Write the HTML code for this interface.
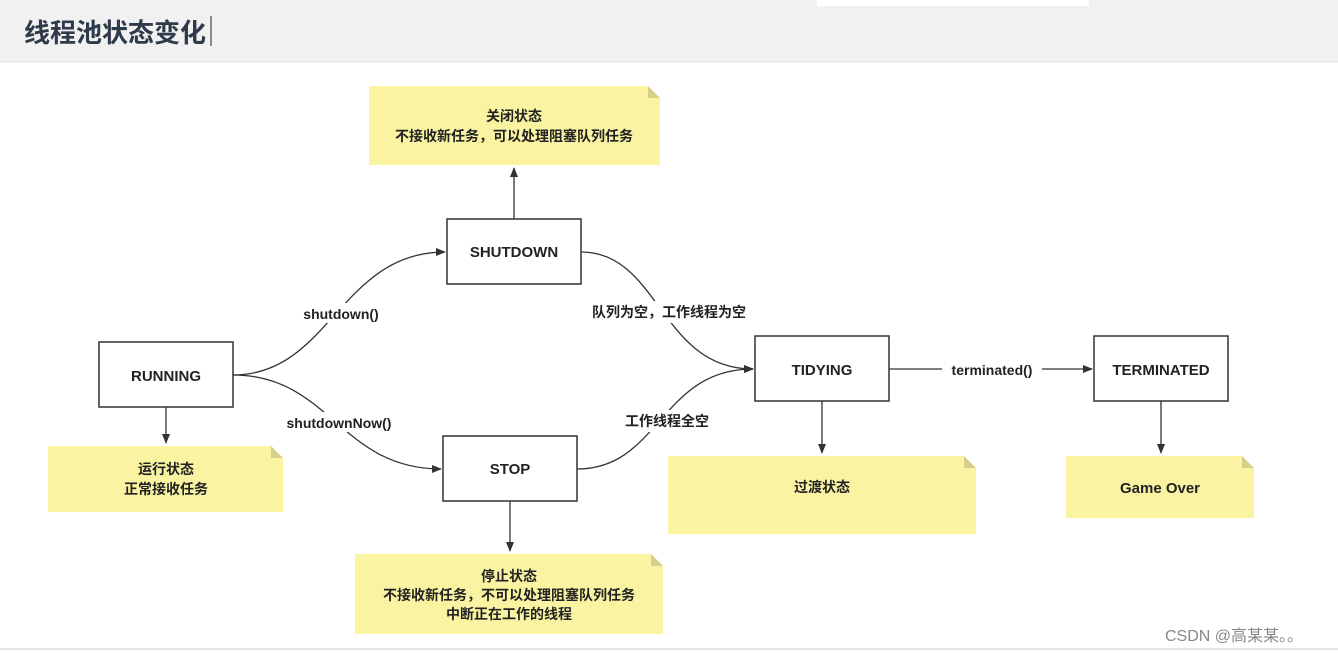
<!DOCTYPE html>
<html><head><meta charset="utf-8"><style>
html,body{margin:0;padding:0;background:#fff;}
body{width:1338px;height:653px;overflow:hidden;position:relative;font-family:"Liberation Sans","Noto Sans CJK SC",sans-serif;}
</style></head><body>
<svg width="1338" height="653" viewBox="0 0 1338 653" xmlns="http://www.w3.org/2000/svg" style="position:absolute;left:0;top:0">
<defs><marker id="a" markerWidth="10" markerHeight="8" refX="9" refY="4" orient="auto" markerUnits="userSpaceOnUse"><path d="M0,0 L10,4 L0,8 Z" fill="#333"/></marker></defs>
<rect x="0" y="0" width="1338" height="62" fill="#f1f1f1"/>
<rect x="817" y="0" width="272" height="6" fill="#fff"/>
<line x1="0" y1="62" x2="1338" y2="62" stroke="#e2e2e2"/>
<line x1="0" y1="649" x2="1338" y2="649" stroke="#e6e6e6" stroke-width="2"/>
<text x="24" y="42" font-family="Liberation Sans,Noto Sans CJK SC,sans-serif" font-size="26" font-weight="bold" fill="#2f3b4a">线程池状态变化</text>
<line x1="211" y1="16" x2="211" y2="46" stroke="#222" stroke-width="1"/>
<g font-family="Liberation Sans,Noto Sans CJK SC,sans-serif" font-weight="bold" font-size="14" fill="#222" text-anchor="middle">
<path d="M369,86 H648 L660,98 V165 H369 Z" fill="#faf4a2"/><path d="M648,86 L660,98 H648 Z" fill="#d8d08a"/>
<text x="514" y="121">关闭状态</text><text x="514" y="141">不接收新任务，可以处理阻塞队列任务</text>
<path d="M48,446 H271 L283,458 V512 H48 Z" fill="#faf4a2"/><path d="M271,446 L283,458 H271 Z" fill="#d8d08a"/>
<text x="166" y="474">运行状态</text><text x="166" y="494">正常接收任务</text>
<path d="M355,554 H651 L663,566 V634 H355 Z" fill="#faf4a2"/><path d="M651,554 L663,566 H651 Z" fill="#d8d08a"/>
<text x="509" y="581">停止状态</text><text x="509" y="600">不接收新任务，不可以处理阻塞队列任务</text><text x="509" y="619">中断正在工作的线程</text>
<path d="M668,456 H964 L976,468 V534 H668 Z" fill="#faf4a2"/><path d="M964,456 L976,468 H964 Z" fill="#d8d08a"/>
<text x="822" y="492">过渡状态</text>
<path d="M1066,456 H1242 L1254,468 V518 H1066 Z" fill="#faf4a2"/><path d="M1242,456 L1254,468 H1242 Z" fill="#d8d08a"/>
<text x="1160" y="493" font-size="15">Game Over</text>
<g fill="#fff" stroke="#333" stroke-width="1.5">
<rect x="447" y="219" width="134" height="65"/><rect x="99" y="342" width="134" height="65"/>
<rect x="443" y="436" width="134" height="65"/><rect x="755" y="336" width="134" height="65"/>
<rect x="1094" y="336" width="134" height="65"/></g>
<text x="514" y="257" font-size="15">SHUTDOWN</text>
<text x="166" y="381" font-size="15">RUNNING</text>
<text x="510" y="474" font-size="15">STOP</text>
<text x="822" y="375" font-size="15">TIDYING</text>
<text x="1161" y="375" font-size="15">TERMINATED</text>
<g fill="none" stroke="#333" stroke-width="1.3" marker-end="url(#a)">
<path d="M514,219 V168"/>
<path d="M166,407 V443"/>
<path d="M510,501 V551"/>
<path d="M822,401 V453"/>
<path d="M1161,401 V453"/>
<path d="M233,375 C330,375 340,252 445,252"/>
<path d="M233,375 C330,375 340,469 441,469"/>
<path d="M581,252 C660,252 660,369 753,369"/>
<path d="M577,469 C660,469 660,369 753,369"/>
<path d="M889,369 H1092"/>
</g>
<g stroke="none" fill="#fff"><rect x="293" y="303" width="96" height="20"/><rect x="272" y="412" width="136" height="20"/><rect x="578" y="301" width="182" height="22"/><rect x="615" y="410" width="104" height="22"/><rect x="942" y="360" width="100" height="20"/></g>
<text x="341" y="319" font-size="14">shutdown()</text>
<text x="339" y="428" font-size="14">shutdownNow()</text>
<text x="669" y="317">队列为空，工作线程为空</text>
<text x="667" y="426">工作线程全空</text>
<text x="992" y="375" font-size="14">terminated()</text>
</g>
<text x="1165" y="641" font-family="Liberation Sans,Noto Sans CJK SC,sans-serif" font-size="16" fill="#888">CSDN @高某某。。</text>
</svg>
</body></html>
